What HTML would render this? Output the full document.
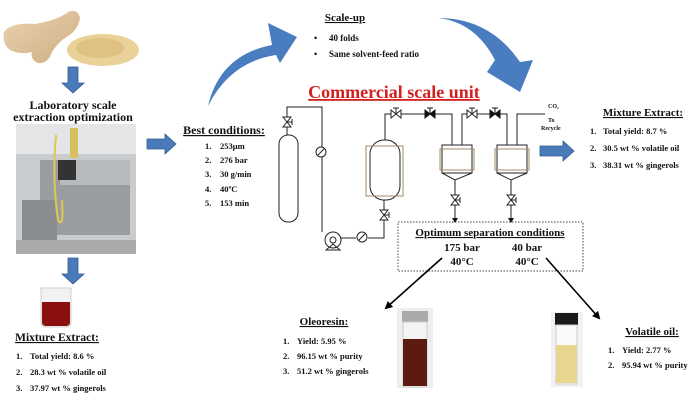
<!DOCTYPE html>
<html><head><meta charset="utf-8"><style>
html,body{margin:0;padding:0;background:#fff;}
svg{display:block;}
text{font-family:"Liberation Serif",serif;font-weight:bold;fill:#111;}
</style></head><body>
<svg width="697" height="400" viewBox="0 0 697 400" xmlns="http://www.w3.org/2000/svg">
<defs>
<marker id="ah" markerWidth="8" markerHeight="8" refX="6" refY="4" orient="auto" markerUnits="userSpaceOnUse"><path d="M0,0 L8,4 L0,8 z" fill="#000"/></marker>
<linearGradient id="ging" x1="0" y1="0" x2="1" y2="1"><stop offset="0" stop-color="#ead2ae"/><stop offset="1" stop-color="#cfae84"/></linearGradient>
</defs>
<!-- ginger -->
<path d="M4,32 Q12,22 35,24 Q58,20 68,12 Q78,8 80,18 Q78,30 68,36 Q58,42 52,52 Q48,64 38,63 Q30,60 32,52 Q20,55 10,50 Q2,44 4,32z" fill="url(#ging)"/>
<ellipse cx="103" cy="50" rx="36" ry="16" fill="#e9d197"/>
<ellipse cx="100" cy="48" rx="24" ry="10" fill="#dfc283"/>
<!-- down arrows -->
<path d="M68,67 h10 v16 h6 l-11,10 l-11,-10 h6z" fill="#4a7ab8" stroke="#2f5a90" stroke-width="0.8"/>
<path d="M68,258 h10 v16 h6 l-11,10 l-11,-10 h6z" fill="#4a7ab8" stroke="#2f5a90" stroke-width="0.8"/>
<text x="73" y="109" font-size="12" text-anchor="middle">Laboratory scale</text>
<text x="73" y="121" font-size="12" text-anchor="middle">extraction optimization</text>
<!-- photo -->
<rect x="16" y="124" width="120" height="130" fill="#c9ccce"/>
<rect x="16" y="124" width="120" height="30" fill="#e3e5e6"/>
<rect x="40" y="160" width="90" height="75" fill="#9a9d9f"/>
<rect x="60" y="160" width="70" height="25" fill="#b8bbbd"/>
<rect x="58" y="160" width="18" height="20" fill="#333"/>
<rect x="70" y="128" width="8" height="30" fill="#d6c060"/>
<rect x="22" y="200" width="35" height="40" fill="#8a8d8f"/>
<rect x="16" y="240" width="120" height="14" fill="#a8aaac"/>
<path d="M56,135 Q52,180 58,220 Q64,230 62,200" stroke="#e0c850" stroke-width="2" fill="none"/>
<!-- beaker -->
<path d="M41,288 h30 v34 q0,5 -5,5 h-20 q-5,0 -5,-5z" fill="#f2f2f2" stroke="#d0d0d0"/>
<path d="M42,302 h28 v20 q0,4 -4,4 h-20 q-4,0 -4,-4z" fill="#8a1010"/>
<text x="57" y="341" font-size="11.5" text-anchor="middle" text-decoration="underline">Mixture Extract:</text>
<g font-size="8.5"><text x="16" y="359">1.</text><text x="30" y="359">Total yield: 8.6 %</text>
<text x="16" y="375">2.</text><text x="30" y="375">28.3 wt % volatile oil</text>
<text x="16" y="391">3.</text><text x="30" y="391">37.97 wt % gingerols</text></g>
<!-- right arrow -->
<path d="M147,139 h18 v-5 l11,10 l-11,10 v-5 h-18z" fill="#4a7ab8" stroke="#2f5a90" stroke-width="0.8"/>
<text x="224" y="134" font-size="12" text-anchor="middle" text-decoration="underline">Best conditions:</text>
<g font-size="8.5"><text x="205" y="149">1.</text><text x="220" y="149">253μm</text>
<text x="205" y="163">2.</text><text x="220" y="163">276 bar</text>
<text x="205" y="177">3.</text><text x="220" y="177">30 g/min</text>
<text x="205" y="192">4.</text><text x="220" y="192">40ºC</text>
<text x="205" y="206">5.</text><text x="220" y="206">153 min</text></g>
<!-- curved arrows -->
<path d="M208,106 Q220,55 272,45 L268,23 L297,37 L280,63 L276,55 Q230,62 208,106z" fill="#4a7dbf"/>
<path d="M438,18 Q475,22 495,60 L487,72 L520,92 L533,60 L520,62 Q490,18 438,18z" fill="#4a7dbf"/>
<text x="345" y="21" font-size="11" text-anchor="middle" text-decoration="underline">Scale-up</text>
<g font-size="9"><text x="314" y="41">•</text><text x="329" y="41">40 folds</text>
<text x="314" y="57">•</text><text x="329" y="57">Same solvent-feed ratio</text></g>
<text x="394" y="98" font-size="18" text-anchor="middle" style="fill:#d41f1f" text-decoration="underline">Commercial scale unit</text>
<!-- process -->
<g stroke="#222" stroke-width="1" fill="none">
<path d="M287,135 V107 H322 V232"/>
<rect x="279" y="135" width="19" height="87" rx="9" fill="#fff"/>
<path d="M283,117 L291,117 L283,127 L291,127z M287,122 h5 M292,119 v6" fill="#fff"/>
<circle cx="321" cy="152" r="5" fill="#fff"/><path d="M318,155 L324,149"/>
<circle cx="333" cy="240" r="8" fill="#fff"/><circle cx="333" cy="240" r="3"/>
<path d="M326,250 L340,250 L333,244z"/>
<path d="M341,238 H356 M368,238 H384 V200"/>
<circle cx="362" cy="237" r="5" fill="#fff"/><path d="M359,240 L365,234"/>
<path d="M380,210 L388,210 L380,220 L388,220z M384,215 h5 M389,212 v6" fill="#fff"/>
<rect x="370" y="140" width="30" height="60" rx="14" fill="#fff"/>
<rect x="366" y="146" width="37" height="50" stroke="#a08a6a"/>
<path d="M385,140 V114 H452 V145"/>
<path d="M462,145 V114 H507 V145"/>
<path d="M517,145 V114 H545"/>
<rect x="442" y="145" width="30" height="28" fill="#fff"/>
<rect x="440" y="149" width="34" height="21" stroke="#a08a6a"/>
<path d="M442,173 L455,180 L472,173 M455,180 V218" />
<rect x="497" y="145" width="30" height="28" fill="#fff"/>
<rect x="495" y="149" width="34" height="21" stroke="#a08a6a"/>
<path d="M497,173 L511,180 L527,173 M511,180 V218"/>
<path d="M451,195 L459,195 L451,205 L459,205z M455,200 h5 M460,197 v6" fill="#fff"/>
<path d="M507,195 L515,195 L507,205 L515,205z M511,200 h5 M516,197 v6" fill="#fff"/>
<path d="M391,110 L401,118 L401,110 L391,118z M396,114 v-6 M393,108 h6" fill="#fff"/>
<path d="M467,110 L477,118 L477,110 L467,118z M472,114 v-6 M469,108 h6" fill="#fff"/>
</g>
<path d="M425,110 L435,118 L435,110 L425,118z M490,110 L500,118 L500,110 L490,118z" fill="#111" stroke="#111"/>
<path d="M430,114 v-6 M427,108 h6 M495,114 v-6 M492,108 h6" stroke="#111"/>
<path d="M452,218 L455,223 L458,218z M508,218 L511,223 L514,218z" fill="#111"/>
<text x="548" y="108" font-size="6">CO₂</text>
<text x="548" y="122" font-size="6">To</text>
<text x="541" y="130" font-size="6">Recycle</text>
<path d="M540,146 h23 v-5 l11,10 l-11,10 v-5 h-23z" fill="#4a7ab8" stroke="#2f5a90" stroke-width="0.8"/>
<text x="643" y="116" font-size="11" text-anchor="middle" text-decoration="underline">Mixture Extract:</text>
<g font-size="8.5"><text x="590" y="134">1.</text><text x="603" y="134">Total yield: 8.7 %</text>
<text x="590" y="151">2.</text><text x="603" y="151">30.5 wt % volatile oil</text>
<text x="590" y="168">3.</text><text x="603" y="168">38.31 wt % gingerols</text></g>
<rect x="398" y="222" width="185" height="49" fill="none" stroke="#444" stroke-dasharray="1.5,1.5"/>
<text x="490" y="236" font-size="11" text-anchor="middle" text-decoration="underline">Optimum separation conditions</text>
<text x="462" y="251" font-size="11" text-anchor="middle">175 bar</text>
<text x="527" y="251" font-size="11" text-anchor="middle">40 bar</text>
<text x="462" y="265" font-size="11" text-anchor="middle">40°C</text>
<text x="527" y="265" font-size="11" text-anchor="middle">40°C</text>
<path d="M442,258 L386,308" stroke="#000" stroke-width="1.6" marker-end="url(#ah)"/>
<path d="M546,258 L599,318" stroke="#000" stroke-width="1.6" marker-end="url(#ah)"/>
<!-- vials -->
<rect x="397" y="308" width="36" height="80" fill="#eeeeee"/>
<rect x="402" y="311" width="26" height="11" fill="#aaa"/>
<rect x="403" y="322" width="24" height="65" fill="#f4f4f4" stroke="#ccc"/>
<rect x="403" y="339" width="24" height="47" fill="#5c1a10"/>
<rect x="551" y="312" width="32" height="75" fill="#f2f2f2"/>
<rect x="555" y="313" width="23" height="12" fill="#1a1a1a"/>
<rect x="556" y="325" width="21" height="59" fill="#fafafa" stroke="#ccc"/>
<rect x="556" y="345" width="21" height="38" fill="#e8d690"/>
<text x="324" y="325" font-size="11" text-anchor="middle" text-decoration="underline">Oleoresin:</text>
<g font-size="8.5"><text x="283" y="344">1.</text><text x="297" y="344">Yield: 5.95 %</text>
<text x="283" y="359">2.</text><text x="297" y="359">96.15 wt % purity</text>
<text x="283" y="374">3.</text><text x="297" y="374">51.2 wt % gingerols</text></g>
<text x="652" y="335" font-size="11" text-anchor="middle" text-decoration="underline">Volatile oil:</text>
<g font-size="8.5"><text x="608" y="353">1.</text><text x="622" y="353">Yield: 2.77 %</text>
<text x="608" y="368">2.</text><text x="622" y="368">95.94 wt % purity</text></g>
</svg>
</body></html>
